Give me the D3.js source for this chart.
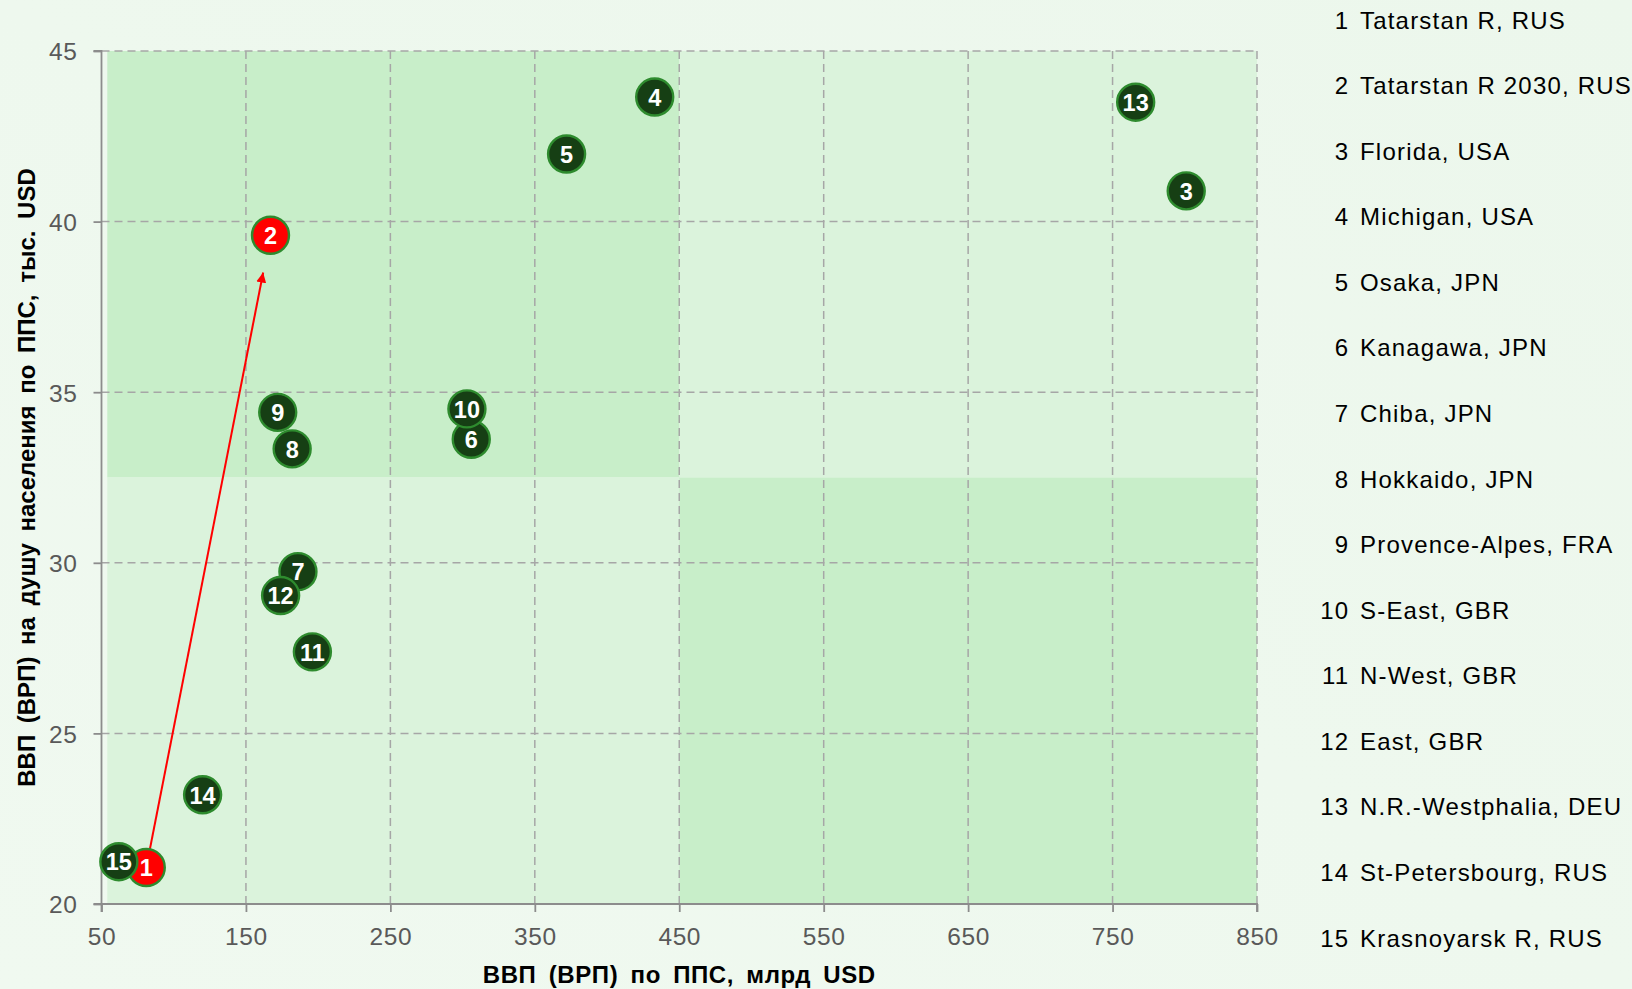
<!DOCTYPE html>
<html><head><meta charset="utf-8">
<script src="https://cdn.jsdelivr.net/npm/d3@7"></script>
<style>
html,body{margin:0;padding:0;background:#eef8ee;}
svg{display:block;font-family:"Liberation Sans",Arial,sans-serif;}
</style></head>
<body>
<svg id="chart" width="1632" height="989"></svg>
<script>
// ---- data ----
const ids = [1,2,3,4,5,6,7,8,9,10,11,12,13,14,15];
const names = ["Tatarstan R, RUS","Tatarstan R 2030, RUS","Florida, USA","Michigan, USA","Osaka, JPN","Kanagawa, JPN","Chiba, JPN","Hokkaido, JPN","Provence-Alpes, FRA","S-East, GBR","N-West, GBR","East, GBR","N.R.-Westphalia, DEU","St-Petersbourg, RUS","Krasnoyarsk R, RUS"];
const gdp = [81, 167, 801, 433, 372, 306, 186, 182, 172, 303, 196, 174, 766, 120, 62];
const gdpPerCap = [21.07, 39.6, 40.9, 43.65, 41.98, 33.62, 29.74, 33.34, 34.41, 34.51, 27.39, 29.04, 43.5, 23.2, 21.24];
const highlight = [1, 2];
const xTicks = [50,150,250,350,450,550,650,750,850];
const yTicks = [20,25,30,35,40,45];
const quadX = [54, 450, 850];
const quadY = [20, 32.5, 45];
const xTitle = "ВВП (ВРП) по ППС, млрд USD";
const yTitle = "ВВП (ВРП) на душу населения по ППС, тыс. USD";
// stacking order of markers (last on top)
const drawIds = [1,15,14,13,3,4,5,6,10,9,8,7,12,11,2];

// ---- layout ----
const svg = d3.select("#chart");
const W = 1632, H = 989;
const m = {left:101.5, right:1257, top:51, bottom:904};
const x = d3.scaleLinear().domain([50,850]).range([m.left, m.right]);
const y = d3.scaleLinear().domain([20,45]).range([m.bottom, m.top]);

const defs = svg.append("defs");
const bg = defs.append("linearGradient").attr("id","bg").attr("x1","0").attr("y1","1").attr("x2","1").attr("y2","0");
bg.append("stop").attr("offset","0").attr("stop-color","#f0f9f0");
bg.append("stop").attr("offset","1").attr("stop-color","#ecf7ec");
svg.append("rect").attr("width",W).attr("height",H).attr("fill","url(#bg)");

// quadrant fills
const quads = [
  {x0:quadX[0],x1:quadX[1],y0:quadY[1],y1:quadY[2],c:"#c8eec9"},
  {x0:quadX[1],x1:quadX[2],y0:quadY[1],y1:quadY[2],c:"#dbf3dc"},
  {x0:quadX[0],x1:quadX[1],y0:quadY[0],y1:quadY[1],c:"#dbf3dc"},
  {x0:quadX[1],x1:quadX[2],y0:quadY[0],y1:quadY[1],c:"#c8eec9"}
];
svg.append("g").selectAll("rect").data(quads).join("rect")
  .attr("x",d=>x(d.x0)).attr("width",d=>x(d.x1)-x(d.x0))
  .attr("y",d=>y(d.y1)).attr("height",d=>y(d.y0)-y(d.y1))
  .attr("fill",d=>d.c);

// grid
const grid = svg.append("g").attr("stroke","#a6a6a6").attr("stroke-width",1.5).attr("stroke-dasharray","8,5");
grid.selectAll("line.v").data(xTicks.slice(1)).join("line")
  .attr("x1",d=>x(d)).attr("x2",d=>x(d)).attr("y1",m.top).attr("y2",m.bottom);
grid.selectAll("line.h").data(yTicks.slice(1)).join("line")
  .attr("y1",d=>y(d)).attr("y2",d=>y(d)).attr("x1",m.left).attr("x2",m.right);

// axes
const xAxis = d3.axisBottom(x).tickValues(xTicks).tickSize(8).tickPadding(21);
const yAxis = d3.axisLeft(y).tickValues(yTicks).tickSize(8).tickPadding(16);
const gx = svg.append("g").attr("transform",`translate(0,${m.bottom})`).call(xAxis);
const gy = svg.append("g").attr("transform",`translate(${m.left},0)`).call(yAxis);
[gx,gy].forEach(g=>{
  g.select(".domain").attr("stroke","#8c8c8c").attr("stroke-width",1.8);
  g.selectAll(".tick line").attr("stroke","#8c8c8c").attr("stroke-width",1.8);
  g.selectAll(".tick text").attr("fill","#595959").style("font-size","24.5px")
   .style("letter-spacing","0.6px")
   .style("font-family","'Liberation Sans',Arial,sans-serif");
});
gx.selectAll(".tick text").attr("dy","0.5em");
gy.selectAll(".tick text").attr("dy","0.36em").attr("x",-24);
gx.select(".domain").attr("d",`M${m.left},8V0H${m.right}V8`);
gy.select(".domain").attr("d",`M-8,${m.bottom}H0V${m.top}H-8`);

// axis titles
svg.append("text").attr("x",(m.left+m.right)/2).attr("y",983)
  .attr("text-anchor","middle").attr("font-weight","bold").attr("font-size",24)
  .attr("letter-spacing",0.6).attr("word-spacing",5)
  .attr("fill","#000").text(xTitle);
svg.append("text").attr("transform",`translate(35,${(m.top+m.bottom)/2}) rotate(-90)`)
  .attr("text-anchor","middle").attr("font-weight","bold").attr("font-size",24)
  .attr("letter-spacing",0).attr("word-spacing",5)
  .attr("fill","#000").text(yTitle);

// points data
const pts = ids.map((id,i)=>({id, name:names[i], gx:gdp[i], gy:gdpPerCap[i], hi:highlight.includes(id)}));

// arrow from 1 to 2
const p1 = pts[0], p2 = pts[1];
const ax1 = x(p1.gx), ay1 = y(p1.gy), ax2 = x(p2.gx), ay2 = y(p2.gy);
const len = Math.hypot(ax2-ax1, ay2-ay1);
const ux = (ax2-ax1)/len, uy = (ay2-ay1)/len;
const tipX = ax2 - ux*38, tipY = ay2 - uy*38;
defs.append("marker").attr("id","arr").attr("viewBox","0 0 10 10")
  .attr("refX",10).attr("refY",5).attr("markerWidth",5).attr("markerHeight",5)
  .attr("markerUnits","strokeWidth").attr("orient","auto")
  .append("path").attr("d","M0,0L10,5L0,10z").attr("fill","#ff0000");
svg.append("line").attr("x1",ax1).attr("y1",ay1).attr("x2",tipX).attr("y2",tipY)
  .attr("stroke","#ff0000").attr("stroke-width",2).attr("marker-end","url(#arr)");

// markers
const drawOrder = drawIds.map(id=>pts[id-1]);
const g = svg.append("g").selectAll("g").data(drawOrder).join("g")
  .attr("transform",d=>`translate(${x(d.gx)},${y(d.gy)})`);
g.append("circle").attr("r",18.5)
  .attr("fill",d=>d.hi?"#ff0000":"#163f14").attr("stroke","#2e8b2e").attr("stroke-width",2.4);
g.append("text").attr("text-anchor","middle").attr("dy","0.37em")
  .attr("font-weight","bold").attr("font-size",23.5).attr("fill","#fff")
  .text(d=>d.id);

// legend
const ly = d3.scalePoint().domain(ids).range([20, 938]);
const leg = svg.append("g").selectAll("g").data(pts).join("g")
  .attr("transform",d=>`translate(0,${ly(d.id)})`);
leg.append("text").attr("x",1349).attr("dy","0.36em").attr("text-anchor","end")
  .attr("font-size",24).attr("letter-spacing",1).attr("fill","#000").text(d=>d.id);
leg.append("text").attr("x",1360).attr("dy","0.36em")
  .attr("font-size",24).attr("letter-spacing",1.2).attr("fill","#000").text(d=>d.name);
</script>
</body></html>
